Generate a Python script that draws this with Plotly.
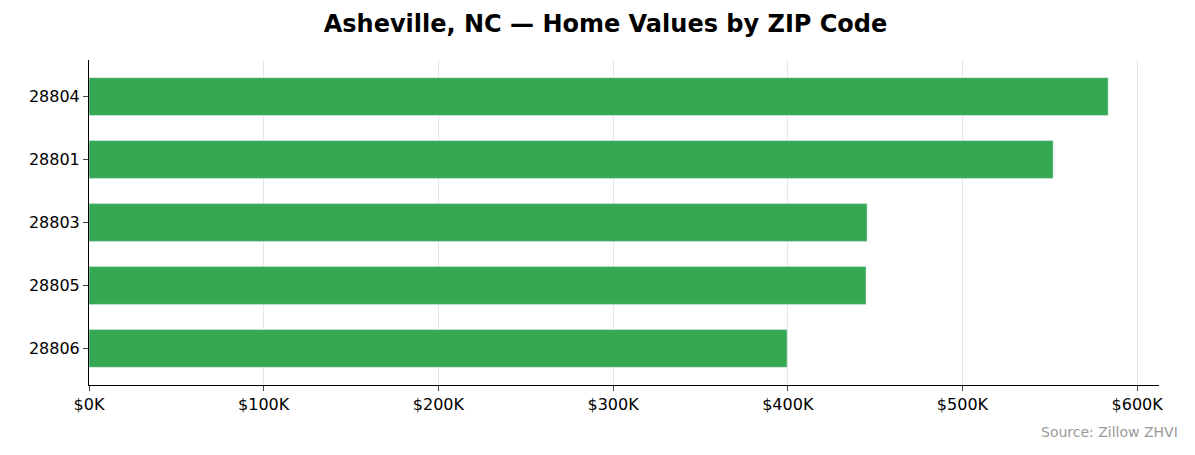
import plotly.graph_objects as go

zips = ["28804", "28801", "28803", "28805", "28806"]
values = [583400, 551900, 445400, 444800, 399600]
tick_vals = [0, 100000, 200000, 300000, 400000, 500000, 600000]
tick_text = ["$0K", "$100K", "$200K", "$300K", "$400K", "$500K", "$600K"]

fig = go.Figure(go.Bar(
    x=values, y=zips, orientation="h", marker_color="#34a853", width=0.6,
    hovertemplate="%{y}: $%{x:,.0f}<extra></extra>"))
fig.update_layout(
    width=1195, height=455, plot_bgcolor="white", paper_bgcolor="white",
    margin=dict(l=81, r=44, t=52, b=78, autoexpand=False),
    title=dict(text="<b>Asheville, NC — Home Values by ZIP Code</b>", x=0.5, y=0.985,
               xanchor="center", yanchor="top",
               font=dict(family="DejaVu Sans", size=24, color="black")),
    font=dict(family="DejaVu Sans", size=16, color="black"),
    showlegend=False,
    xaxis=dict(range=[0, 612500], tickvals=tick_vals, ticktext=tick_text,
               showgrid=True, gridcolor="#e6e6e6", showline=True, linecolor="black",
               ticks="outside", ticklen=5, zeroline=False),
    yaxis=dict(categoryorder="array", categoryarray=zips[::-1], range=[-0.58, 4.58],
               showline=True, linecolor="black", ticks="outside", ticklen=5,
               showgrid=False),
    annotations=[dict(text="Source: Zillow ZHVI", xref="paper", yref="paper",
                      x=1.0 + 21/1070, y=-0.115, xanchor="right", yanchor="top",
                      showarrow=False, font=dict(size=14, color="#999999"))],
)
fig.write_html("out.html")
